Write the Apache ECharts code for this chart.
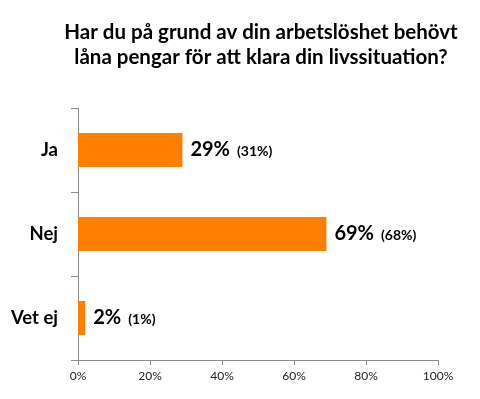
<!DOCTYPE html>
<html>
<head>
<meta charset="utf-8">
<script src="https://cdn.jsdelivr.net/npm/echarts@6/dist/echarts.min.js"></script>
<style>
  html, body { margin: 0; padding: 0; background: #fff; }
  #chart { width: 480px; height: 399px; }
</style>
</head>
<body>
<div id="chart"></div>
<script>
const categories = ['Ja', 'Nej', 'Vet ej'];
const values = [29, 69, 2];
const previous = [31, 68, 1];
const xTicks = [0, 20, 40, 60, 80, 100];

const chart = echarts.init(document.getElementById('chart'));

chart.setOption({
  animation: false,
  backgroundColor: '#fff',
  title: {
    text: 'Har du på grund av din arbetslöshet behövt\nlåna pengar för att klara din livssituation?',
    left: 256,
    top: 15,
    textAlign: 'center',
    textStyle: {
      fontFamily: 'Lato',
      fontWeight: 'bold',
      fontSize: 20.5,
      lineHeight: 25,
      color: '#000'
    }
  },
  grid: {
    left: 78,
    right: 42,
    top: 108,
    bottom: 39,
    containLabel: false
  },
  xAxis: {
    type: 'value',
    min: 0,
    max: 100,
    interval: 20,
    axisLine: { show: true, lineStyle: { color: '#8c8c8c', width: 1 } },
    axisTick: { show: true, length: 5, lineStyle: { color: '#8c8c8c' } },
    splitLine: { show: false },
    axisLabel: {
      color: '#222',
      fontFamily: 'Lato',
      fontSize: 12,
      margin: 10,
      formatter: v => xTicks.includes(v) ? v + '%' : ''
    }
  },
  yAxis: {
    type: 'category',
    inverse: true,
    data: categories,
    axisLine: { show: true, lineStyle: { color: '#8c8c8c', width: 1 } },
    axisTick: { show: true, length: 7, alignWithLabel: false, lineStyle: { color: '#8c8c8c' } },
    axisLabel: {
      color: '#000',
      fontFamily: 'Lato',
      fontWeight: 'bold',
      fontSize: 18.5,
      margin: 20
    }
  },
  series: [{
    type: 'bar',
    data: values,
    barWidth: 34,
    itemStyle: { color: '#ff8000' },
    label: {
      show: true,
      position: 'right',
      distance: 8,
      formatter: p => '{big|' + p.value + '%}{small|(' + previous[p.dataIndex] + '%)}',
      rich: {
        big: {
          fontFamily: 'Lato',
          fontWeight: 'bold',
          fontSize: 20,
          color: '#000'
        },
        small: {
          fontFamily: 'Lato',
          fontWeight: 'bold',
          fontSize: 14,
          color: '#000',
          padding: [3, 0, 0, 7]
        }
      }
    }
  }]
});
</script>
</body>
</html>
